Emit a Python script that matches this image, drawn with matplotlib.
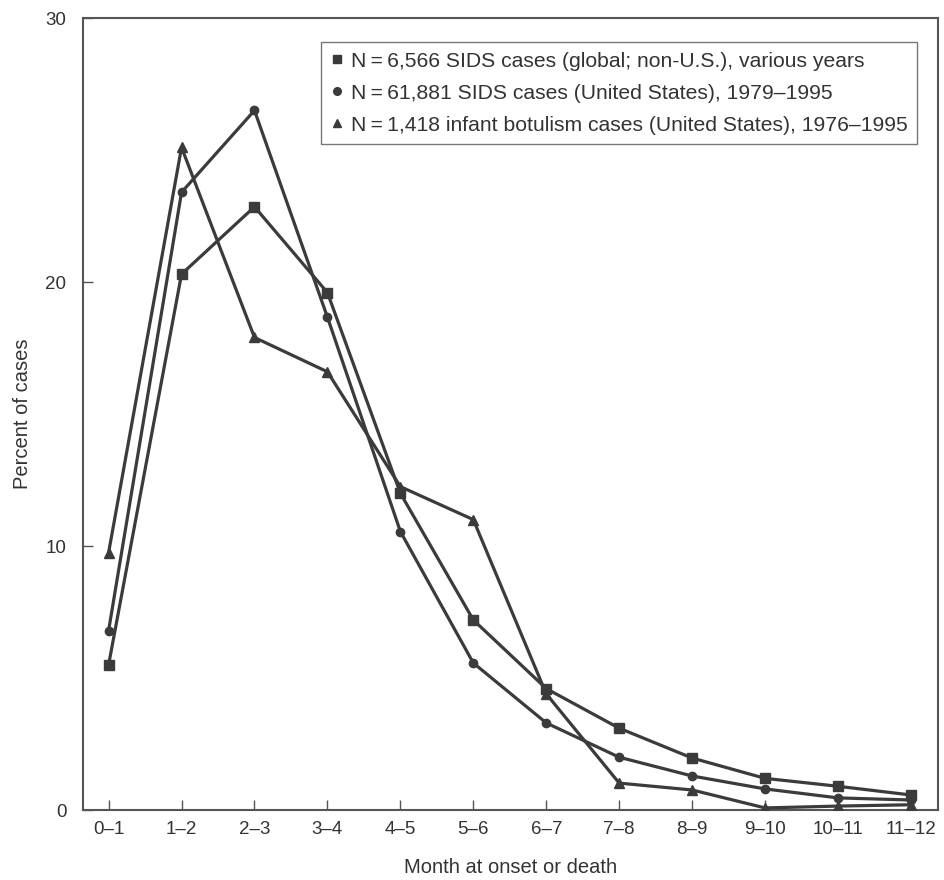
import matplotlib
matplotlib.use("Agg")
import matplotlib.pyplot as plt
from matplotlib.lines import Line2D

plt.rcParams["font.family"] = ["Liberation Sans", "DejaVu Sans"]

months = ["0\u20131", "1\u20132", "2\u20133", "3\u20134", "4\u20135", "5\u20136",
          "6\u20137", "7\u20138", "8\u20139", "9\u201310", "10\u201311", "11\u201312"]

sids_global = [5.5, 20.3, 22.85, 19.6, 12.0, 7.2, 4.6, 3.1, 1.97, 1.2, 0.9, 0.57]
sids_us = [6.8, 23.4, 26.5, 18.67, 10.55, 5.57, 3.3, 2.0, 1.29, 0.8, 0.46, 0.38]
botulism = [9.75, 25.1, 17.9, 16.6, 12.25, 11.0, 4.4, 1.02, 0.76, 0.08, 0.15, 0.2]

labels = [
    "N\u2009=\u20096,566 SIDS cases (global; non-U.S.), various years",
    "N\u2009=\u200961,881 SIDS cases (United States), 1979\u20131995",
    "N\u2009=\u20091,418 infant botulism cases (United States), 1976\u20131995",
]

col = "#3b3b3b"
txt = "#333333"
fig = plt.figure(figsize=(9.44, 8.8), dpi=100)
ax = fig.add_axes([0.088, 0.0795, 0.9056, 0.9])

x = list(range(len(months)))
ax.plot(x, sids_global, color=col, lw=2.3, marker="s", ms=7, zorder=3)
ax.plot(x, sids_us, color=col, lw=2.3, marker="o", ms=6, zorder=3)
ax.plot(x, botulism, color=col, lw=2.3, marker="^", ms=7, zorder=3)

ax.set_xlim(-0.35, 11.37)
ax.set_ylim(0, 30)
ax.set_xticks(x)
ax.set_xticklabels(months)
ax.set_yticks([0, 10, 20, 30])
ax.tick_params(axis="both", direction="in", length=7, width=1, color="#555555",
               labelsize=13.5, labelcolor=txt)
ax.tick_params(axis="x", pad=8)
ax.tick_params(axis="y", pad=12)
for s in ax.spines.values():
    s.set_color("#555555")
    s.set_linewidth(1.5)

ax.set_xlabel("Month at onset or death", fontsize=14.5, color=txt, labelpad=14)
ax.set_ylabel("Percent of cases", fontsize=14.5, color=txt, labelpad=10)

handles = [
    Line2D([], [], ls="none", marker="s", ms=6, color=col),
    Line2D([], [], ls="none", marker="o", ms=5.5, color=col),
    Line2D([], [], ls="none", marker="^", ms=6, color=col),
]
leg = ax.legend(handles, labels, loc="upper right", bbox_to_anchor=(0.9754, 0.9697),
                fontsize=15.2, frameon=True, fancybox=False, handlelength=0.6,
                handletextpad=0.35, borderpad=0.45, labelspacing=0.62,
                borderaxespad=0, labelcolor=txt)
leg.get_frame().set_edgecolor("#555555")
leg.get_frame().set_linewidth(1.0)

fig.savefig("out.png", dpi=100)
